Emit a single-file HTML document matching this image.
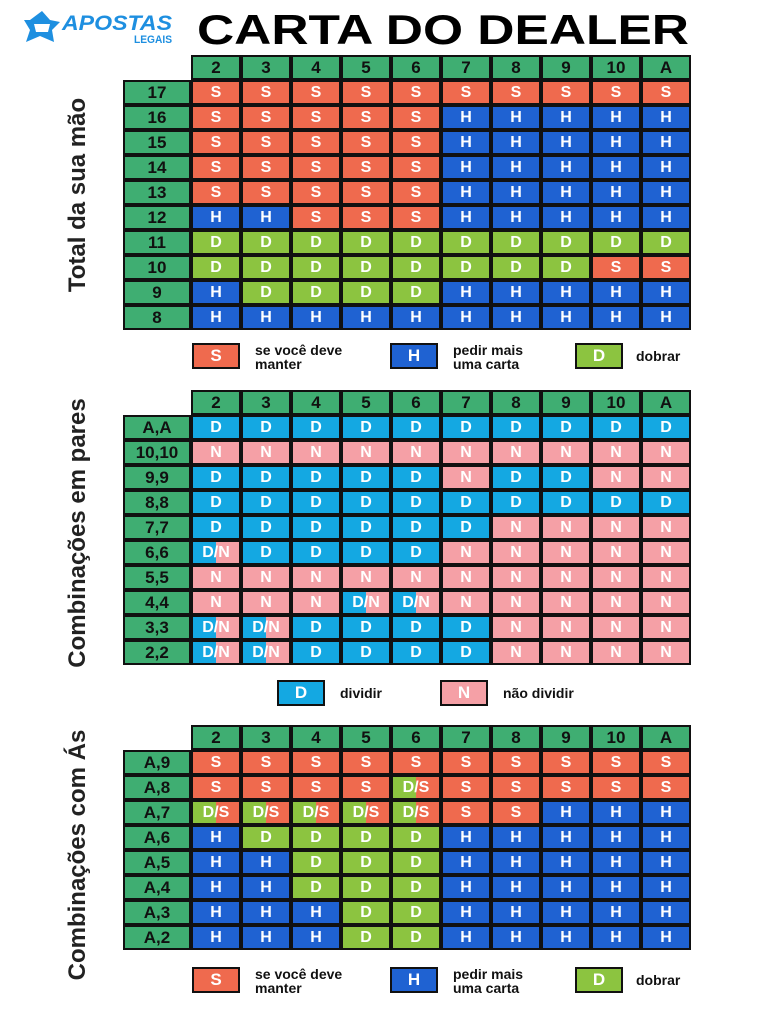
<!DOCTYPE html>
<html><head><meta charset="utf-8">
<style>
body{margin:0;width:768px;height:1024px;background:#fff;position:relative;overflow:hidden;font-family:"Liberation Sans",sans-serif}
.a{position:absolute}
.c{position:absolute;box-sizing:border-box;display:flex;align-items:center;justify-content:center;color:#fff;font-weight:bold;font-size:16px;border:2px solid #111}
.g{background:#3fae72;color:#111;font-size:17px}
.S{background:#ef6a4e}.H{background:#1f62d2}.D{background:#8cc440}.P{background:#14a8e2}.N{background:#f5a0a6}
.X{background:linear-gradient(90deg,#14a8e2 50%,#f5a0a6 50%)}
.Y{background:linear-gradient(90deg,#8cc440 50%,#ef6a4e 50%)}
.lb{position:absolute;font-weight:bold;font-size:14px;line-height:14px;color:#111}
.vl{position:absolute;font-weight:bold;font-size:24px;color:#222;white-space:nowrap;transform:translate(-50%,-50%) rotate(-90deg)}
.lgb{position:absolute;width:48px;height:26px;box-sizing:border-box;border:2px solid #111;color:#fff;font-weight:bold;font-size:17px;display:flex;align-items:center;justify-content:center}
</style></head><body>
<svg class="a" style="left:22px;top:8px" width="160" height="40">
<path d="M20 3 L8 12 L2 12 L8 22 L4 34 L18 28 L32 34 L30 22 L38 14 L28 12 Z" fill="#1e8fe0"/>
<path d="M12 16 L28 16 L26 24 L14 24 Z" fill="#fff"/>
<text x="40" y="22" font-family="Liberation Sans" font-weight="bold" font-style="italic" font-size="21" fill="#1e8fe0" textLength="110" lengthAdjust="spacingAndGlyphs">APOSTAS</text>
<text x="112" y="35" font-family="Liberation Sans" font-weight="bold" font-size="11" fill="#1e8fe0" textLength="38" lengthAdjust="spacingAndGlyphs">LEGAIS</text>
</svg>
<svg class="a" style="left:195px;top:5px" width="500" height="46"><text x="2" y="39" font-family="Liberation Sans" font-weight="bold" font-size="42" fill="#000" textLength="492" lengthAdjust="spacingAndGlyphs">CARTA DO DEALER</text></svg>
<div class="vl" style="left:78px;top:195px">Total da sua mão</div>
<div class="vl" style="left:78px;top:533px">Combinações em pares</div>
<div class="vl" style="left:78px;top:855px">Combinações com Ás</div>
<div id="root"></div>
<div class="lgb S" style="left:192px;top:343px">S</div><div class="lb" style="left:255px;top:343px">se você deve<br>manter</div>
<div class="lgb H" style="left:390px;top:343px">H</div><div class="lb" style="left:453px;top:343px">pedir mais<br>uma carta</div>
<div class="lgb D" style="left:575px;top:343px">D</div><div class="lb" style="left:636px;top:349px">dobrar</div>
<div class="lgb P" style="left:277px;top:680px">D</div><div class="lb" style="left:340px;top:686px">dividir</div>
<div class="lgb N" style="left:440px;top:680px">N</div><div class="lb" style="left:503px;top:686px">não dividir</div>
<div class="lgb S" style="left:192px;top:967px">S</div><div class="lb" style="left:255px;top:967px">se você deve<br>manter</div>
<div class="lgb H" style="left:390px;top:967px">H</div><div class="lb" style="left:453px;top:967px">pedir mais<br>uma carta</div>
<div class="lgb D" style="left:575px;top:967px">D</div><div class="lb" style="left:636px;top:973px">dobrar</div>
<script>
var hdr=["2","3","4","5","6","7","8","9","10","A"];
function rep(a,n){return Array(n).fill(a)}
var t1=[["17",rep("S",10)],["16",rep("S",5).concat(rep("H",5))],["15",rep("S",5).concat(rep("H",5))],["14",rep("S",5).concat(rep("H",5))],["13",rep("S",5).concat(rep("H",5))],["12",["H","H","S","S","S"].concat(rep("H",5))],["11",rep("D",10)],["10",rep("D",8).concat(["S","S"])],["9",["H","D","D","D","D"].concat(rep("H",5))],["8",rep("H",10)]];
var t2=[["A,A",rep("P",10)],["10,10",rep("N",10)],["9,9",["P","P","P","P","P","N","P","P","N","N"]],["8,8",rep("P",10)],["7,7",rep("P",6).concat(rep("N",4))],["6,6",["X","P","P","P","P"].concat(rep("N",5))],["5,5",rep("N",10)],["4,4",["N","N","N","X","X"].concat(rep("N",5))],["3,3",["X","X","P","P","P","P"].concat(rep("N",4))],["2,2",["X","X","P","P","P","P"].concat(rep("N",4))]];
var t3=[["A,9",rep("S",10)],["A,8",["S","S","S","S","Y"].concat(rep("S",5))],["A,7",rep("Y",5).concat(["S","S","H","H","H"])],["A,6",["H","D","D","D","D"].concat(rep("H",5))],["A,5",["H","H","D","D","D"].concat(rep("H",5))],["A,4",["H","H","D","D","D"].concat(rep("H",5))],["A,3",["H","H","H","D","D"].concat(rep("H",5))],["A,2",["H","H","H","D","D"].concat(rep("H",5))]];
var txt={S:"S",H:"H",D:"D",P:"D",N:"N",X:"D/N",Y:"D/S"};
var h="";
function cell(x,y,w,hh,cls,t){h+='<div class="c '+cls+'" style="left:'+x+'px;top:'+y+'px;width:'+w+'px;height:'+hh+'px">'+t+'</div>';}
function table(top,rows){
 var x0=191,cw=50,rh=25;
 for(var i=0;i<10;i++)cell(x0+i*cw,top,cw,rh,"g",hdr[i]);
 rows.forEach(function(r,j){var y=top+rh*(j+1);cell(123,y,68,rh,"g",r[0]);
  r[1].forEach(function(v,i){cell(x0+i*cw,y,cw,rh,v,txt[v]);});});
}
table(55,t1);table(390,t2);table(725,t3);
document.getElementById("root").innerHTML=h;
</script>
</body></html>
